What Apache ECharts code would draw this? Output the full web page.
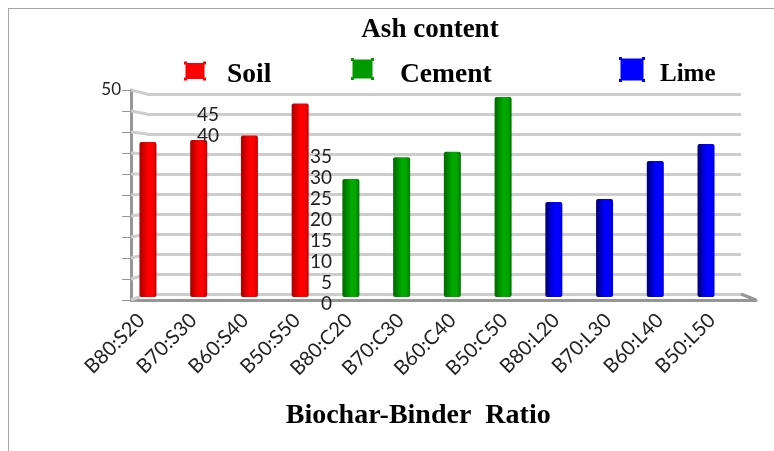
<!DOCTYPE html>
<html>
<head>
<meta charset="utf-8">
<style>
  html, body { margin: 0; background: #fff; }
  #chart { width: 774px; height: 451px; }
</style>
</head>
<body>
<div id="chart"></div>
<script src="https://cdn.jsdelivr.net/npm/echarts@6/dist/echarts.min.js"></script>
<script>
const categories = ["B80:S20", "B70:S30", "B60:S40", "B50:S50", "B80:C20", "B70:C30", "B60:C40", "B50:C50", "B80:L20", "B70:L30", "B60:L40", "B50:L50"]
const soilValues = [37.8, 38.3, 39.4, 47.2]
const cementValues = [28.8, 34.1, 35.4, 48.8]
const limeValues = [23.2, 23.9, 33.2, 37.3]
const yTicks = [0, 5, 10, 15, 20, 25, 30, 35, 40, 45, 50]

const labelFont = "Lato"
const titleFont = "Liberation Serif"
const wallLine = "#cdcdcd"
const floorLine = "#969696"

const chart = echarts.init(document.getElementById("chart"))

// the horizontal gradient gives the bars their cylinder look
const cylinder = (edgeL, mid, edgeR) => new echarts.graphic.LinearGradient(0, 0, 1, 0, [
  { offset: 0, color: edgeL },
  { offset: 0.5, color: mid },
  { offset: 0.75, color: mid },
  { offset: 1, color: edgeR }
])

// value axis shared by the front wall, the back wall and the bars
const yAxisBase = (gridIndex) => ({
  type: "value",
  gridIndex,
  min: 0,
  max: 50,
  interval: 5,
  axisLine: { show: false },
  axisTick: { show: false },
  axisLabel: { show: false },
  splitLine: { show: false }
})

// tick labels that sit inside the plot, as in the original
const innerLabels = (offset, shown) => ({
  ...yAxisBase(0),
  position: "left",
  offset,
  z: 6,
  axisLabel: {
    show: true,
    margin: 0,
    fontFamily: labelFont,
    fontSize: 19,
    color: "#222",
    verticalAlign: "top",
    lineHeight: 8,
    showMinLabel: true,
    showMaxLabel: true,
    formatter: (v) => (shown.includes(v) ? String(v) : "")
  }
})

const barSeries = (name, values, start, color) => ({
  name,
  type: "bar",
  xAxisIndex: 2,
  yAxisIndex: 4,
  barWidth: 17,
  barGap: "-100%",
  z: 4,
  itemStyle: { color, borderRadius: 2 },
  data: values.map((v, i) => [categories[start + i], v])
})

// legend swatch with the little corner handles. The zero-size sliver at the
// bottom stretches the icon box, that is what lifts the swatch above its text
const swatchIcon = (w, h, boxH) =>
  `path://M1.5 1.5H${w - 1.5}V${h - 1.5}H1.5Z` +
  `M0 0H3V3H0Z M${w - 3} 0H${w}V3H${w - 3}Z` +
  `M0 ${h - 3}H3V${h}H0Z M${w - 3} ${h - 3}H${w}V${h}H${w - 3}Z` +
  `M0 ${boxH}H0.01V${boxH}H0Z`

const legendFor = (name, left, top, size, boxH, textGap, fontSize, color) => ({
  data: [name],
  left,
  top,
  itemWidth: size[0],
  itemHeight: boxH,
  icon: swatchIcon(size[0], size[1], boxH),
  itemStyle: { color },
  textStyle: {
    fontFamily: titleFont,
    fontWeight: "bold",
    fontSize,
    color: "#000",
    padding: [0, 0, 0, textGap]
  }
})

chart.setOption({
  animation: false,
  title: {
    text: "Ash content",
    left: 425,
    textAlign: "center",
    top: 12,
    textStyle: { fontFamily: titleFont, fontWeight: "bold", fontSize: 27, color: "#000" }
  },
  legend: [
    legendFor("Soil", 179, 56, [22, 19], 27, 16, 27.5, "#ff0000"),
    legendFor("Cement", 346, 53, [23, 22], 33, 21, 27.5, "#009900"),
    legendFor("Lime", 614, 52, [26, 25], 35, 10, 25, "#0000ff")
  ],
  graphic: [
    { type: "line", silent: true, shape: { x1: 8.5, y1: 8, x2: 8.5, y2: 451 }, style: { stroke: "#a6a6a6", lineWidth: 1 } },
    { type: "line", silent: true, shape: { x1: 8, y1: 8.5, x2: 774, y2: 8.5 }, style: { stroke: "#a6a6a6", lineWidth: 1 } }
  ],
  grid: [
    { left: 131, width: 625, top: 90, height: 210 }, // front edge
    { left: 147, width: 594, top: 94, height: 200 }, // back wall
    { left: 122.6, width: 608.8, top: 92, height: 205 }, // plane of the bars
    { left: 122.6, width: 622.2, top: 92, height: 205 } // labels run a bit wider than the bars
  ],
  xAxis: [
    {
      type: "value",
      gridIndex: 0,
      min: 0,
      max: 1,
      axisLine: { show: true, onZero: false, lineStyle: { color: floorLine, width: 3 } },
      axisTick: { show: false },
      axisLabel: { show: false },
      splitLine: { show: false }
    },
    {
      type: "value",
      gridIndex: 1,
      min: 0,
      max: 1,
      axisLine: { show: false },
      axisTick: { show: false },
      axisLabel: { show: false },
      splitLine: { show: false }
    },
    {
      type: "category",
      gridIndex: 2,
      data: categories,
      axisLine: { show: false },
      axisTick: { show: false },
      axisLabel: { show: false }
    },
    {
      type: "category",
      gridIndex: 3,
      data: categories,
      name: "Biochar-Binder  Ratio",
      nameLocation: "middle",
      nameGap: 105,
      nameTextStyle: {
        fontFamily: titleFont,
        fontWeight: "bold",
        fontSize: 28,
        color: "#000",
        padding: [0, 31, 0, 0]
      },
      axisLine: { show: false },
      axisTick: { show: false },
      axisLabel: {
        interval: 0,
        rotate: 45,
        margin: 13,
        fontFamily: labelFont,
        fontSize: 20,
        color: "#222",
        padding: [0, 10, 0, 0]
      }
    }
  ],
  yAxis: [
    // 0: front edge, ticks and the "50" label
    {
      ...yAxisBase(0),
      axisLine: { show: true, lineStyle: { color: floorLine, width: 3 } },
      axisTick: { show: true, length: 9, lineStyle: { color: floorLine, width: 1 } },
      axisLabel: {
        show: true,
        margin: 10,
        fontFamily: labelFont,
        fontSize: 17,
        color: "#222",
        showMaxLabel: true,
        formatter: (v) => (v === 50 ? "50" : "")
      }
    },
    innerLabels(-88, [40, 45]),
    innerLabels(-201, [0, 5, 10, 15, 20, 25, 30, 35]),
    // 3: back wall grid lines
    {
      ...yAxisBase(1),
      splitLine: { show: true, lineStyle: { color: wallLine, width: 3 } }
    },
    // 4: bars
    yAxisBase(2),
    // 5: only there so the label axis has a partner
    yAxisBase(3)
  ],
  series: [
    {
      // side wall lines joining front ticks to the back grid lines
      type: "custom",
      xAxisIndex: 0,
      yAxisIndex: 0,
      silent: true,
      z: 1,
      data: yTicks.map((v) => [0, v]),
      renderItem: (params, api) => {
        const v = api.value(1)
        const front = api.coord([0, v])
        const back = chart.convertToPixel({ gridIndex: 1 }, [0, v])
        return {
          type: "line",
          shape: { x1: front[0], y1: front[1], x2: back[0], y2: back[1] },
          style: { stroke: wallLine, lineWidth: 3 }
        }
      }
    },
    {
      // right end of the floor
      type: "custom",
      xAxisIndex: 0,
      yAxisIndex: 0,
      silent: true,
      z: 1,
      data: [[1, 0]],
      renderItem: (params, api) => {
        const front = api.coord([1, 0])
        const back = chart.convertToPixel({ gridIndex: 1 }, [1, 0])
        return {
          type: "line",
          shape: { x1: back[0], y1: back[1], x2: front[0], y2: front[1] },
          style: { stroke: floorLine, lineWidth: 3 }
        }
      }
    },
    barSeries("Soil", soilValues, 0, cylinder("#a80000", "#ff0000", "#c80000")),
    barSeries("Cement", cementValues, 4, cylinder("#006800", "#00a800", "#007800")),
    barSeries("Lime", limeValues, 8, cylinder("#000070", "#0000ff", "#0000e0"))
  ]
})
</script>
</body>
</html>
